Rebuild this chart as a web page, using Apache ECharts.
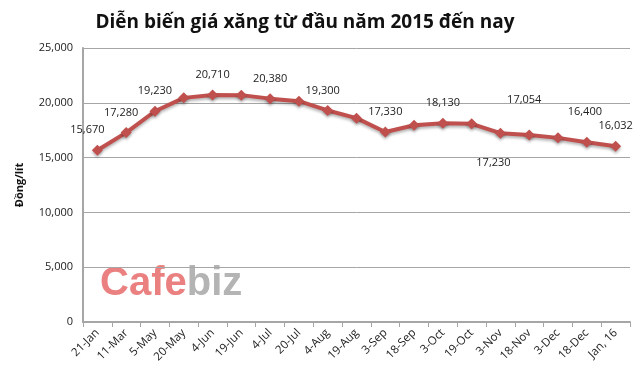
<!DOCTYPE html>
<html><head><meta charset="utf-8">
<script src="https://cdn.jsdelivr.net/npm/echarts@6/dist/echarts.min.js"></script>
<style>html,body{margin:0;padding:0;background:#fff}#c{width:640px;height:381px}</style>
</head><body><div id="c"></div>
<script>
const categories = ['21-Jan','11-Mar','5-May','20-May','4-Jun','19-Jun','4-Jul','20-Jul','4-Aug','19-Aug','3-Sep','18-Sep','3-Oct','19-Oct','3-Nov','18-Nov','3-Dec','18-Dec','Jan, 16'];
const prices = [15670,17280,19230,20450,20710,20700,20380,20150,19300,18600,17330,17950,18130,18080,17230,17054,16800,16400,16032];
// label offsets per point (null = no label)
const labelOffsets = [[-10,0],[-5,0],[0,0],null,[0,0],null,[0,0],null,[-5,0],null,[0,0],null,[0,0],null,[-7,50],[-5,-15],null,[-2,-10],[0,0]];
const yTicks = [0,5000,10000,15000,20000,25000];

const font = '"Open Sans", "Noto Sans", sans-serif';
const data = prices.map((v,i)=>{
  const o = labelOffsets[i];
  if(!o) return {value:v, label:{show:false}};
  return {value:v, label:{show:true, offset:o}};
});
const chart = echarts.init(document.getElementById('c'));
chart.setOption({
  animation:false,
  title:{text:'Diễn biến giá xăng từ đầu năm 2015 đến nay', left:300, textAlign:'center', top:8,
    textStyle:{fontFamily:font, fontWeight:'bold', fontSize:19, color:'#111'}},
  graphic:[{type:'text', left:100, top:264, z:0, style:{
    rich:{a:{fill:'#ea8080', fontSize:40, fontWeight:'bold', fontFamily:'"Liberation Sans", sans-serif'},
          b:{fill:'#b4b4b4', fontSize:40, fontWeight:'bold', fontFamily:'"Liberation Sans", sans-serif'}},
    text:'{a|Cafe}{b|biz}'}}],
  grid:{left:83, right:10, top:48, bottom:59},
  xAxis:{type:'category', data:categories, boundaryGap:true,
    axisLine:{lineStyle:{color:'#a6a6a6', width:2}},
    axisTick:{show:true, alignWithLabel:false, lineStyle:{color:'#a6a6a6'}},
    axisLabel:{rotate:45, interval:0, fontFamily:font, fontSize:11.5, color:'#222', margin:9}},
  yAxis:{type:'value', min:0, max:25000, interval:5000,
    name:'Đồng/lít', nameLocation:'middle', nameGap:58, nameRotate:90,
    nameTextStyle:{fontFamily:font, fontWeight:'bold', fontSize:11, color:'#111'},
    axisLine:{show:true, lineStyle:{color:'#a6a6a6', width:2}},
    axisTick:{show:false},
    splitLine:{lineStyle:{color:'#a6a6a6', width:1}},
    axisLabel:{fontFamily:font, fontSize:11, color:'#222', margin:10,
      formatter:v=>v.toLocaleString('en-US')}},
  series:[{type:'line', data:data, symbol:'diamond', symbolSize:11,
    lineStyle:{color:'#c0504d', width:4, shadowColor:'rgba(0,0,0,0.3)', shadowBlur:3, shadowOffsetY:2},
    itemStyle:{color:'#c0504d', shadowColor:'rgba(0,0,0,0.3)', shadowBlur:3, shadowOffsetY:2},
    label:{position:'top', distance:9, fontFamily:font, fontSize:11, color:'#222',
      formatter:p=>p.value.toLocaleString('en-US')}, z:3}]
});
</script></body></html>
